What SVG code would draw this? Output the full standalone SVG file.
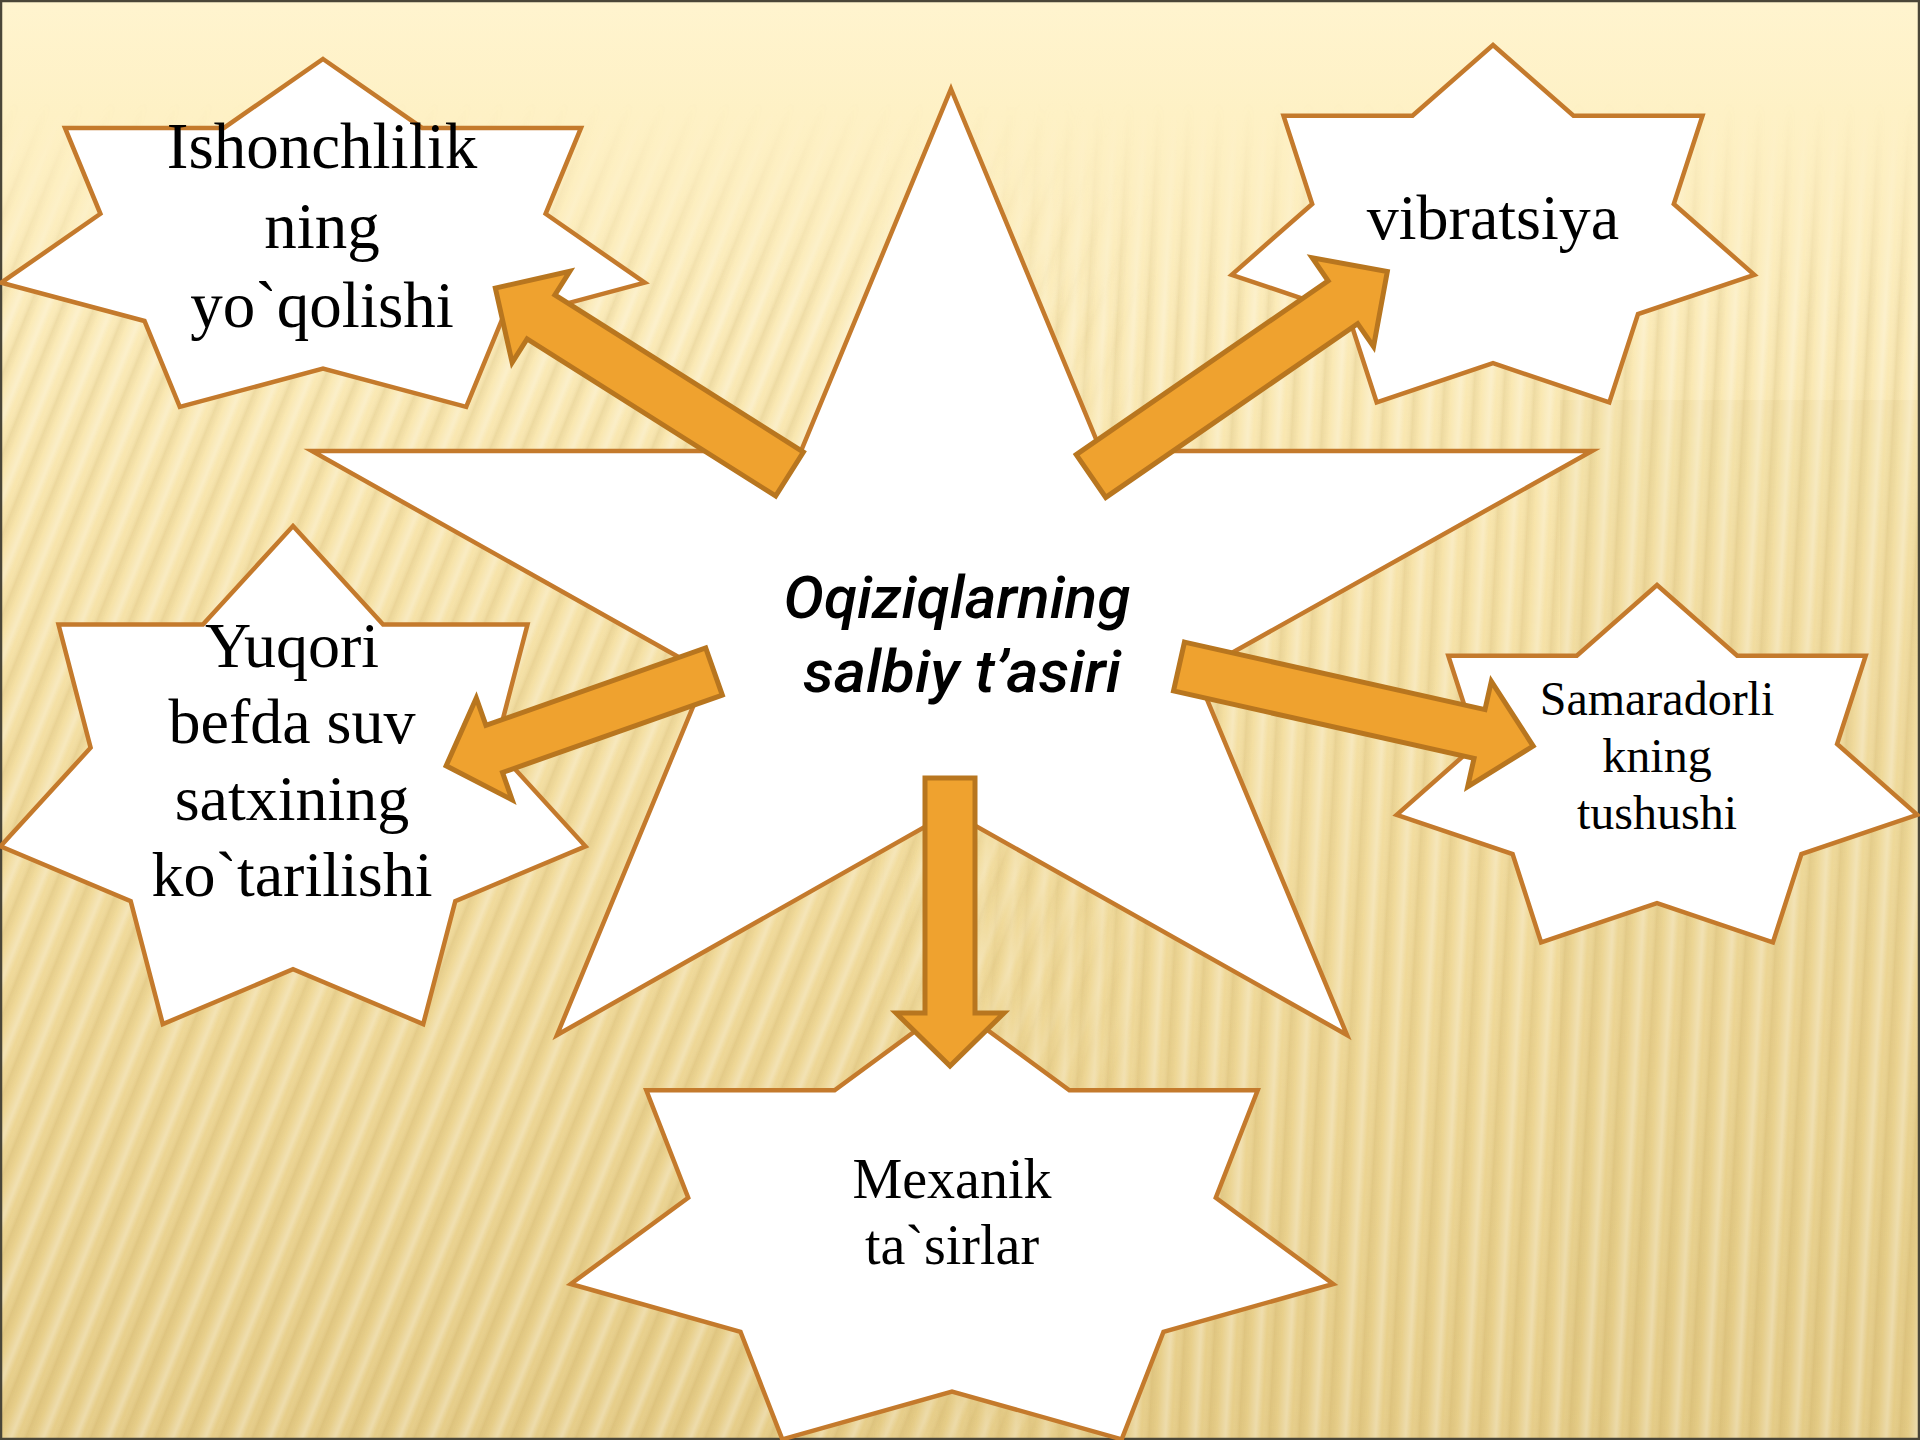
<svg xmlns="http://www.w3.org/2000/svg" width="1920" height="1440" viewBox="0 0 1920 1440">
<style>
.star{fill:#FFFFFF;stroke:#C47A2C;stroke-width:4.5;stroke-linejoin:miter}
.arrow{fill:#EFA22F;stroke:#B8761F;stroke-width:5;stroke-linejoin:miter}
.lbl{font-family:"Liberation Serif","Times New Roman",serif;fill:#000000;text-anchor:middle}
.ctr{font-family:Roboto,"Liberation Sans",Arial,sans-serif;font-style:italic;font-weight:500;font-size:59px;fill:#000000;text-anchor:middle}
</style>
<defs>
<linearGradient id="bg" x1="0" y1="0" x2="0" y2="1">
<stop offset="0" stop-color="#FFF4CF"/>
<stop offset="0.08" stop-color="#FEF1C5"/>
<stop offset="0.35" stop-color="#F8E5AC"/>
<stop offset="0.7" stop-color="#EFD897"/>
<stop offset="1" stop-color="#E6CD88"/>
</linearGradient>
<linearGradient id="soft" x1="0" y1="0" x2="1" y2="0">
<stop offset="0" stop-color="#FFFFFF" stop-opacity="0"/>
<stop offset="0.3" stop-color="#FFFFFF" stop-opacity="0.3"/>
<stop offset="0.5" stop-color="#FFFFFF" stop-opacity="0"/>
<stop offset="0.75" stop-color="#A8863C" stop-opacity="0.14"/>
<stop offset="1" stop-color="#A8863C" stop-opacity="0"/>
</linearGradient>
<pattern id="stL" patternUnits="userSpaceOnUse" width="30" height="200" patternTransform="rotate(22)">
<rect x="0" y="0" width="30" height="200" fill="url(#soft)"/>
</pattern>
<pattern id="stR" patternUnits="userSpaceOnUse" width="30" height="200" patternTransform="rotate(3)">
<rect x="0" y="0" width="30" height="200" fill="url(#soft)"/>
</pattern>
<linearGradient id="fadeV" x1="0" y1="0" x2="0" y2="1440" gradientUnits="userSpaceOnUse">
<stop offset="0" stop-color="#000"/>
<stop offset="0.07" stop-color="#000"/>
<stop offset="0.22" stop-color="#fff"/>
<stop offset="1" stop-color="#fff"/>
</linearGradient>
<linearGradient id="fadeL" x1="0" y1="0" x2="1920" y2="0" gradientUnits="userSpaceOnUse">
<stop offset="0" stop-color="#fff"/>
<stop offset="0.45" stop-color="#fff"/>
<stop offset="0.6" stop-color="#000"/>
<stop offset="1" stop-color="#000"/>
</linearGradient>
<linearGradient id="fadeR" x1="0" y1="0" x2="1920" y2="0" gradientUnits="userSpaceOnUse">
<stop offset="0" stop-color="#000"/>
<stop offset="0.45" stop-color="#000"/>
<stop offset="0.6" stop-color="#fff"/>
<stop offset="1" stop-color="#fff"/>
</linearGradient>
<mask id="mV"><rect width="1920" height="1440" fill="url(#fadeV)"/></mask>
<mask id="mL"><rect width="1920" height="1440" fill="url(#fadeL)"/></mask>
<mask id="mR"><rect width="1920" height="1440" fill="url(#fadeR)"/></mask>
</defs>

<g id="background">
<rect width="1920" height="1440" fill="url(#bg)"/>
<rect x="1560" y="400" width="360" height="1040" fill="#D8BC72" opacity="0.12"/>
<g mask="url(#mV)">
<rect width="1920" height="1440" fill="url(#stL)" mask="url(#mL)"/>
<rect width="1920" height="1440" fill="url(#stR)" mask="url(#mR)"/>
</g>
<rect x="1" y="1" width="1918" height="1438" fill="none" stroke="#4A4638" stroke-width="2.5"/>
</g>

<g id="node-center">
<polygon class="star" points="951,89 1101,451 1592,451 1196,673 1347,1035 951,812 557,1035 707,673 312,451 801,451"/>
<text class="ctr" x="957" y="618" textLength="347" lengthAdjust="spacingAndGlyphs">Oqiziqlarning</text>
<text class="ctr" x="962" y="692" textLength="318" lengthAdjust="spacingAndGlyphs">salbiy t’asiri</text>
</g>

<g id="node-ishonchlilik">
<polygon class="star" points="323,59 422.1,127.9 581,127.9 545.6,213.8 644.7,282.7 501.5,321 466.2,406.9 323,368.6 179.8,406.9 144.5,321 1.3,282.7 100.4,213.8 65,127.9 223.9,127.9"/>
<text class="lbl" font-size="65" x="322" y="168">Ishonchlilik</text>
<text class="lbl" font-size="65" x="322" y="248">ning</text>
<text class="lbl" font-size="65" x="322" y="327">yo`qolishi</text>
</g>

<g id="node-vibratsiya">
<polygon class="star" points="1493,45 1573.5,115.8 1702.5,115.8 1673.8,204 1754.3,274.8 1638,314.1 1609.3,402.4 1493,363.1 1376.7,402.4 1348,314.1 1231.7,274.8 1312.2,204 1283.5,115.8 1412.5,115.8"/>
<text class="lbl" font-size="64" x="1493" y="239">vibratsiya</text>
</g>

<g id="node-yuqori">
<polygon class="star" points="293,526 383.1,624.6 527.5,624.6 495.4,747.7 585.5,846.3 455.3,901.1 423.2,1024.1 293,969.3 162.8,1024.1 130.7,901.1 0.5,846.3 90.6,747.7 58.5,624.6 202.9,624.6"/>
<text class="lbl" font-size="64" x="292" y="667">Yuqori</text>
<text class="lbl" font-size="64" x="292" y="743">befda suv</text>
<text class="lbl" font-size="64" x="292" y="820">satxining</text>
<text class="lbl" font-size="64" x="292" y="896">ko`tarilishi</text>
</g>

<g id="node-samaradorli">
<polygon class="star" points="1657,585 1737.2,655.8 1865.7,655.8 1837.1,744 1917.3,814.8 1801.4,854.1 1772.9,942.4 1657,903.1 1541.1,942.4 1512.6,854.1 1396.7,814.8 1476.9,744 1448.3,655.8 1576.8,655.8"/>
<text class="lbl" font-size="48" x="1657" y="715">Samaradorli</text>
<text class="lbl" font-size="48" x="1657" y="772">kning</text>
<text class="lbl" font-size="48" x="1657" y="829">tushushi</text>
</g>

<g id="node-mexanik">
<polygon class="star" points="952,1004 1069.4,1090.2 1257.7,1090.2 1215.8,1197.7 1333.2,1284 1163.5,1331.8 1121.7,1439.3 952,1391.5 782.3,1439.3 740.5,1331.8 570.8,1284 688.2,1197.7 646.3,1090.2 834.6,1090.2"/>
<text class="lbl" font-size="56" x="952" y="1198">Mexanik</text>
<text class="lbl" font-size="56" x="952" y="1264">ta`sirlar</text>
</g>

<g id="connectors">
<polygon class="arrow" transform="translate(789.5,474) rotate(-147.7)" points="0,-26 294,-26 294,-54 348,0 294,54 294,26 0,26"/>
<polygon class="arrow" transform="translate(1091,476) rotate(-34.6)" points="0,-26 306,-26 306,-54 360,0 306,54 306,26 0,26"/>
<polygon class="arrow" transform="translate(714,671.5) rotate(160.6)" points="0,-25 233,-25 233,-54 284,0 233,54 233,25 0,25"/>
<polygon class="arrow" transform="translate(1179,666.5) rotate(12.66)" points="0,-25 308,-25 308,-54 363,0 308,54 308,25 0,25"/>
<polygon class="arrow" transform="translate(950,778) rotate(90)" points="0,-25 235,-25 235,-54 288,0 235,54 235,25 0,25"/>
</g>
</svg>
